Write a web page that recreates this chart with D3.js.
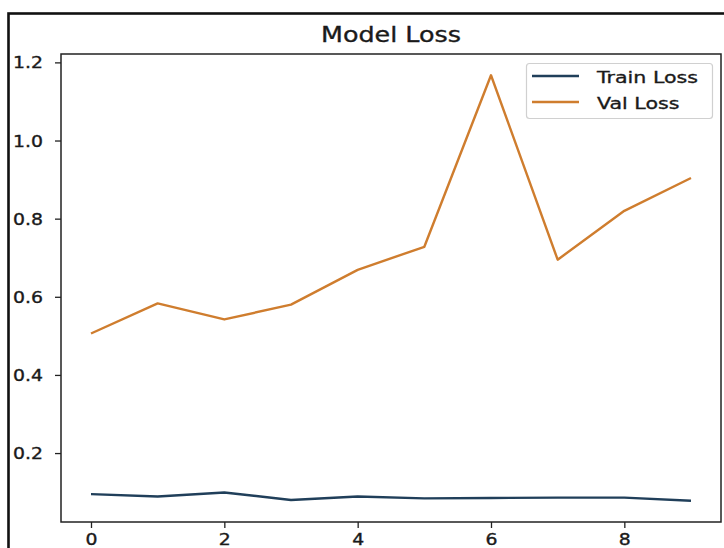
<!DOCTYPE html>
<html>
<head>
<meta charset="utf-8">
<script src="https://cdn.jsdelivr.net/npm/d3@7/dist/d3.min.js"></script>
<style>
  html, body { margin: 0; padding: 0; background: #fff; }
  svg { display: block; }
  text { font-family: "DejaVu Sans", sans-serif; fill: #1a1a1a; stroke: #1a1a1a; stroke-width: 0.35; }
</style>
</head>
<body>
<svg id="chart" width="724" height="548"></svg>
<script>
// Per-epoch loss values
const epochs = [0, 1, 2, 3, 4, 5, 6, 7, 8, 9];
const trainLoss = [0.095, 0.089, 0.099, 0.080, 0.089, 0.084, 0.085, 0.086, 0.086, 0.078];
const valLoss = [0.506, 0.583, 0.542, 0.580, 0.669, 0.728, 1.167, 0.695, 0.820, 0.904];
const xTicks = [0, 2, 4, 6, 8];
const yTicks = [0.2, 0.4, 0.6, 0.8, 1.0, 1.2];
const seriesNames = ["Train Loss", "Val Loss"];
const seriesColors = ["#203f5a", "#cf7d2e"];

const svg = d3.select("#chart");
const W = 724, H = 548;
const plot = { left: 61, right: 721, top: 54, bottom: 522 };
const stretch = 1.24; // horizontal glyph stretch

// Outer frame
svg.append("rect")
  .attr("x", 8.5).attr("y", 13.5)
  .attr("width", W + 10).attr("height", H + 10)
  .attr("fill", "none").attr("stroke", "#111").attr("stroke-width", 2.6);

// Scales with 5% margins like the plotting library default
const xPad = (d3.max(epochs) - d3.min(epochs)) * 0.05;
const x = d3.scaleLinear()
  .domain([d3.min(epochs) - xPad, d3.max(epochs) + xPad])
  .range([plot.left, plot.right]);
const all = trainLoss.concat(valLoss);
const yMin = d3.min(all), yMax = d3.max(all);
const yPad = (yMax - yMin) * 0.05;
const y = d3.scaleLinear()
  .domain([yMin - yPad, yMax + yPad])
  .range([plot.bottom, plot.top]);

// Lines
const line = d3.line().x((d, i) => x(epochs[i])).y(d => y(d));
[trainLoss, valLoss].forEach((s, k) => {
  svg.append("path")
    .datum(s)
    .attr("d", line)
    .attr("fill", "none")
    .attr("stroke", seriesColors[k])
    .attr("stroke-width", 2.4)
    .attr("stroke-linejoin", "round")
    .attr("stroke-linecap", "butt");
});

// Axes
const gx = svg.append("g")
  .attr("transform", `translate(0,${plot.bottom})`)
  .call(d3.axisBottom(x).tickValues(xTicks).tickFormat(d3.format("d")).tickSize(6).tickSizeOuter(0));
const gy = svg.append("g")
  .attr("transform", `translate(${plot.left},0)`)
  .call(d3.axisLeft(y).tickValues(yTicks).tickFormat(d3.format(".1f")).tickSize(6).tickSizeOuter(0));

[gx, gy].forEach(g => {
  g.select(".domain").remove();
  g.selectAll(".tick line").attr("stroke", "#222").attr("stroke-width", 1.3);
});

gx.selectAll(".tick text")
  .attr("x", null).attr("dy", null).attr("y", null)
  .attr("font-size", 15.2)
  .attr("text-anchor", "middle")
  .attr("fill", "#1a1a1a")
  .attr("transform", `translate(0,22.5) scale(${stretch},1)`);

gy.selectAll(".tick text")
  .attr("x", null).attr("dy", null).attr("y", null)
  .attr("font-size", 15.2)
  .attr("text-anchor", "end")
  .attr("fill", "#1a1a1a")
  .attr("transform", `translate(-18,5.5) scale(${stretch},1)`);

// Plot frame
svg.append("rect")
  .attr("x", plot.left).attr("y", plot.top)
  .attr("width", plot.right - plot.left).attr("height", plot.bottom - plot.top)
  .attr("fill", "none").attr("stroke", "#222").attr("stroke-width", 1.5);

// Title
svg.append("text")
  .attr("text-anchor", "middle")
  .attr("font-size", 20.5)
  .attr("transform", `translate(${(plot.left + plot.right) / 2},42) scale(${stretch},1)`)
  .text("Model Loss");

// Legend
const lg = svg.append("g");
lg.append("rect")
  .attr("x", 526.5).attr("y", 63.5).attr("width", 186).attr("height", 55)
  .attr("rx", 3).attr("fill", "#fff").attr("fill-opacity", 0.85)
  .attr("stroke", "#d0d0d0").attr("stroke-width", 1.2);
seriesNames.forEach((name, i) => {
  const ly = 76 + i * 26;
  lg.append("line")
    .attr("x1", 532).attr("x2", 579).attr("y1", ly).attr("y2", ly)
    .attr("stroke", seriesColors[i]).attr("stroke-width", 2.4);
  lg.append("text")
    .attr("font-size", 16.6)
    .attr("transform", `translate(597,${ly + 7}) scale(${stretch},1)`)
    .text(name);
});
</script>
</body>
</html>
